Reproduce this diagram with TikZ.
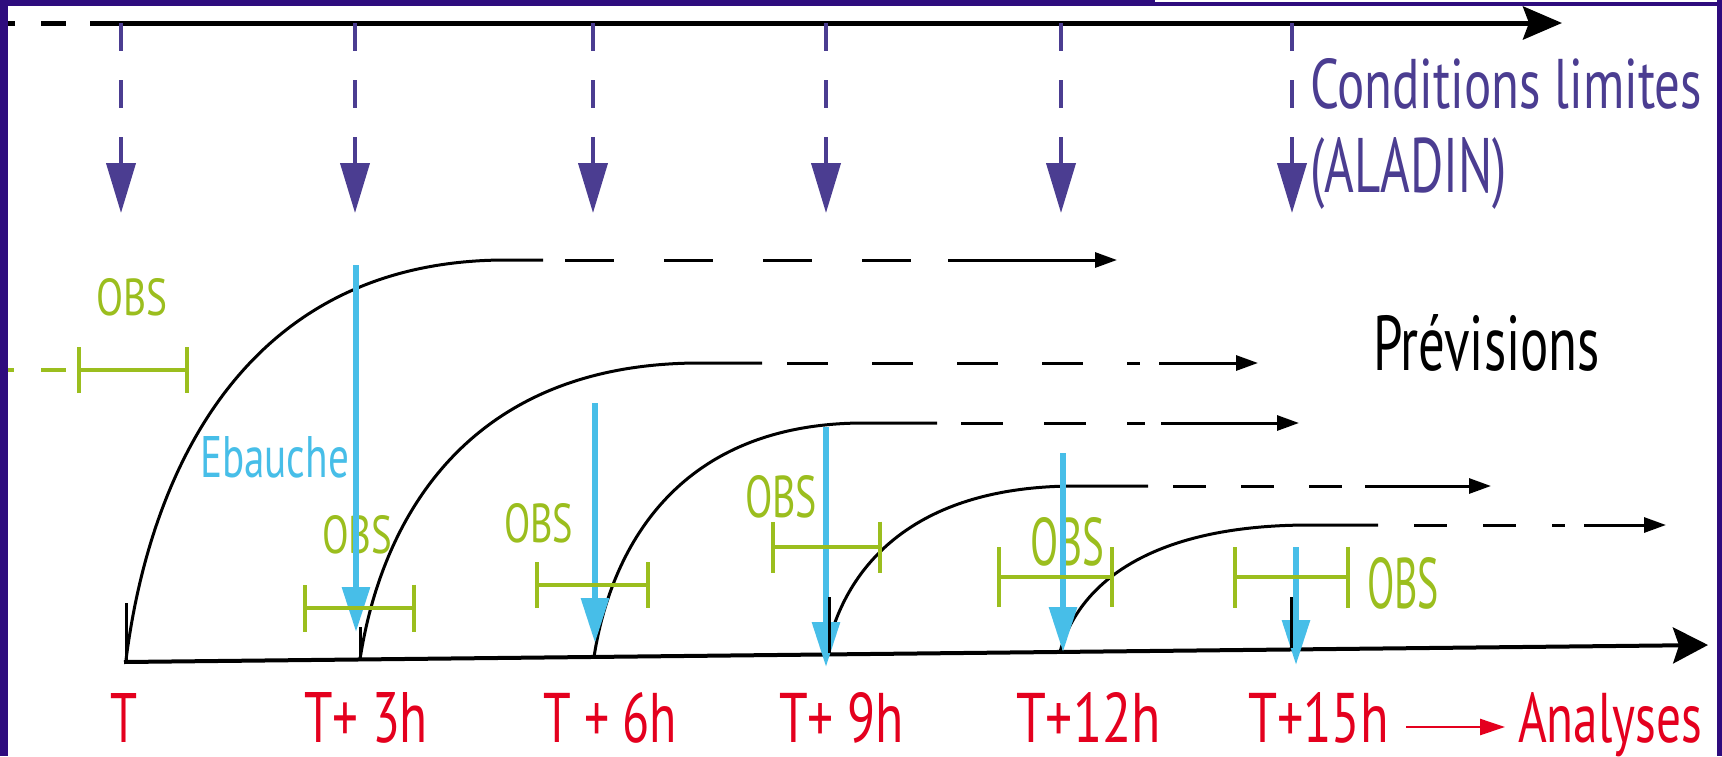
\documentclass[tikz,border=0pt]{standalone}
\usepackage{fontspec}
\usepackage{graphicx}
\setmainfont{PT Sans}
\usetikzlibrary{arrows.meta}
\definecolor{framec}{RGB}{46,12,126}
\definecolor{limc}{RGB}{75,61,145}
\definecolor{ebc}{RGB}{71,190,232}
\definecolor{obsc}{RGB}{155,190,30}
\definecolor{labc}{RGB}{228,0,30}
\newcommand{\fitt}[3]{\resizebox{#1pt}{#2pt}{#3}}
\begin{document}
\begin{tikzpicture}[x=1pt,y=-1pt,
  txt/.style={anchor=base west, inner sep=0pt, outer sep=0pt},
  limarrow/.style={draw=limc, line width=4pt, dash pattern=on 28pt off 29pt, -{Triangle[length=50pt,width=29pt]}},
  curve/.style={draw=black, line width=3pt},
  fdash/.style={draw=black, line width=3pt},
  farrow/.style={draw=black, line width=3pt, -{Triangle[length=22pt,width=15pt]}},
  ebarrow/.style={draw=ebc, line width=6pt, -{Triangle[length=45pt,width=27pt]}},
  obsbar/.style={draw=obsc, line width=4pt, {Bar[width=#1]}-{Bar[width=#1]}},
  tick/.style={draw=black, line width=3pt},
]
\useasboundingbox (0,0) rectangle (1722,756);
\fill[white] (0,0) rectangle (1722,756);

% top time axis
\coordinate (ta0) at (90,23);
\coordinate (ta1) at (1562,23);
\coordinate (td0) at (-10,23);
\coordinate (td1) at (66,23);
\draw[line width=5pt, dash pattern=on 25pt off 26pt] (td0) -- (td1);
\draw[line width=5pt, -{Stealth[length=39pt,width=33pt,inset=6pt]}] (ta0) -- (ta1);

% boundary condition arrows
\foreach \x [count=\i] in {121,355,593,826,1061,1292}{
  \coordinate (lb\i) at (\x,23);
  \coordinate (le\i) at (\x,213);
  \draw[limarrow] (lb\i) -- (le\i);
}
\node[txt, text=limc] (cl) at (1310,108) {\fitt{392}{50}{Conditions limites}};
\node[txt, text=limc] (al) at (1310,192) {\fitt{197}{55}{(ALADIN)}};

% forecast curves
\coordinate (s1) at (126,660);
\coordinate (s2) at (360,659.5);
\coordinate (s3) at (594,657);
\coordinate (s4) at (826,654.5);
\coordinate (s5) at (1060,652);

\draw[curve] (s1) .. controls (148.8,480) and (240,260) .. (506,260) -- (543,260) coordinate (e1);
\coordinate (d1) at (912,260);
\draw[fdash, dash pattern=on 49pt off 50pt, dash phase=77pt] (e1) -- (d1);
\coordinate (a1) at (948,260); \coordinate (t1) at (1117,260);
\draw[farrow] (a1) -- (t1);

\draw[curve] (s2) .. controls (380.4,526.1) and (462,363) .. (700,363) -- (762,363) coordinate (e2);
\coordinate (d2) at (1140,363);
\draw[fdash, dash pattern=on 41pt off 44pt, dash phase=60pt] (e2) -- (d2);
\coordinate (a2) at (1159,363); \coordinate (t2) at (1258,363);
\draw[farrow] (a2) -- (t2);

\draw[curve] (s3) .. controls (610.2,551.7) and (675,423) .. (864,423) -- (937,423) coordinate (e3);
\coordinate (d3) at (1145,423);
\draw[fdash, dash pattern=on 42pt off 41pt, dash phase=59pt] (e3) -- (d3);
\coordinate (a3) at (1161,423); \coordinate (t3) at (1299,423);
\draw[farrow] (a3) -- (t3);

\draw[curve] (s4) .. controls (841,578.7) and (901,486) .. (1076,486) -- (1148,486) coordinate (e4);
\coordinate (d4) at (1344,486);
\draw[fdash, dash pattern=on 33pt off 35pt, dash phase=43pt] (e4) -- (d4);
\coordinate (a4) at (1365,486); \coordinate (t4) at (1491,486);
\draw[farrow] (a4) -- (t4);

\draw[curve] (s5) .. controls (1075,594.8) and (1135,525) .. (1310,525) -- (1378,525) coordinate (e5);
\coordinate (d5) at (1565,525);
\draw[fdash, dash pattern=on 33pt off 36pt, dash phase=33pt] (e5) -- (d5);
\coordinate (a5) at (1584,525); \coordinate (t5) at (1666,525);
\draw[farrow] (a5) -- (t5);

\node[txt] (prev) at (1373,370) {\fitt{227}{56}{Prévisions}};

% bottom axis
\coordinate (ba0) at (124,662);
\coordinate (ba1) at (1708,645);
\draw[line width=4pt, -{Stealth[length=35pt,width=36pt,inset=6pt]}] (ba0) -- (ba1);

% OBS labels
\node[txt, text=obsc] (o0) at (96,315) {\fitt{71}{37}{OBS}};
\node[txt, text=obsc] (o1) at (322,553) {\fitt{70}{38}{OBS}};
\node[txt, text=obsc] (o2) at (504,542) {\fitt{69}{39}{OBS}};
\node[txt, text=obsc] (o3) at (745,517) {\fitt{72}{42}{OBS}};
\node[txt, text=obsc] (o4) at (1030,565) {\fitt{74}{48}{OBS}};
\node[txt, text=obsc] (o5) at (1367,608) {\fitt{72}{51}{OBS}};
\node[txt, text=ebc] (eb) at (200,477) {\fitt{149}{41}{Ebauche}};

% guess (ebauche) arrows
\coordinate (b1s) at (356,265); \coordinate (b1e) at (356,632);
\coordinate (b2s) at (595,403); \coordinate (b2e) at (595,643);
\coordinate (b3s) at (826,427); \coordinate (b3e) at (826,667);
\coordinate (b4s) at (1063,453); \coordinate (b4e) at (1063,652);
\coordinate (b5s) at (1296,547); \coordinate (b5e) at (1296,665);
\foreach \i in {1,...,5}{ \draw[ebarrow] (b\i s) -- (b\i e); }

% observation windows
\coordinate (g0d0) at (8,370); \coordinate (g0d1) at (14,370);
\coordinate (g0d2) at (41,370); \coordinate (g0d3) at (66,370);
\draw[draw=obsc, line width=4pt] (g0d0) -- (g0d1) (g0d2) -- (g0d3);
\coordinate (g0a) at (77,370); \coordinate (g0b) at (189,370);
\draw[obsbar=46pt] (g0a) -- (g0b);
\coordinate (g1a) at (303,608); \coordinate (g1b) at (416,608);
\draw[obsbar=47pt] (g1a) -- (g1b);
\coordinate (g2a) at (535,585); \coordinate (g2b) at (650,585);
\draw[obsbar=46pt] (g2a) -- (g2b);
\coordinate (g3a) at (771,547); \coordinate (g3b) at (882,547);
\draw[obsbar=51pt] (g3a) -- (g3b);
\coordinate (g4a) at (997,577); \coordinate (g4b) at (1114,577);
\draw[obsbar=60pt] (g4a) -- (g4b);
\coordinate (g5a) at (1233,577); \coordinate (g5b) at (1350,577);
\draw[obsbar=61pt] (g5a) -- (g5b);

% analysis ticks
\draw[tick] (126,603) -- (126,662);
\draw[tick] (360,627) -- (360,657);
\draw[tick] (829,597) -- (829,653);
\draw[tick] (1291,597) -- (1291,648);

% time labels
\node[txt, text=labc] (l0) at (110,742) {\fitt{27}{49}{T}};
\node[txt, text=labc] (l1) at (304,742) {\fitt{124}{50}{T+ 3h}};
\node[txt, text=labc] (l2) at (543,742) {\fitt{134}{50}{T + 6h}};
\node[txt, text=labc] (l3) at (779,742) {\fitt{125}{50}{T+ 9h}};
\node[txt, text=labc] (l4) at (1016,742) {\fitt{145}{50}{T+12h}};
\node[txt, text=labc] (l5) at (1248,742) {\fitt{141}{50}{T+15h}};
\node[txt, text=labc] (an) at (1518,742) {\fitt{184}{50}{Analyses}};
\coordinate (ra0) at (1406,727); \coordinate (ra1) at (1505,727);
\draw[draw=labc, line width=2.5pt, -{Triangle[length=25pt,width=16pt]}] (ra0) -- (ra1);

% frame
\fill[framec] (0,0) rectangle (8,756);
\fill[framec] (1717,0) rectangle (1722,756);
\fill[framec] (0,0) rectangle (1155,6);
\fill[framec] (1155,2) rectangle (1722,6);
\end{tikzpicture}
\end{document}
